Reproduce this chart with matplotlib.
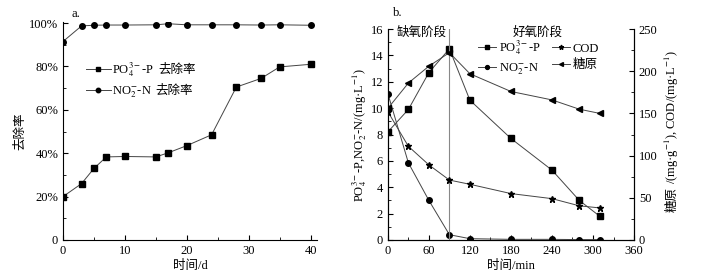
import matplotlib
matplotlib.use("Agg")
import matplotlib.pyplot as plt
from matplotlib.ticker import MultipleLocator, FuncFormatter

plt.rcParams['font.family'] = ['Liberation Serif', 'Noto Sans CJK SC']
plt.rcParams['mathtext.fontset'] = 'stix'
plt.rcParams['font.size'] = 10

# panel a: removal rates over days
days = [0, 3, 5, 7, 10, 15, 17, 20, 24, 28, 32, 35, 40]
po4_removal = [20, 26, 33, 38.3, 38.5, 38.3, 40.2, 43.5, 48.5, 70.5, 74.5, 79.8, 81]
no2_removal = [91.5, 98.7, 99.0, 99.1, 99.1, 99.2, 99.7, 99.2, 99.2, 99.2, 99.1, 99.2, 99.0]

# panel b: one cycle (min)
minutes = [0, 30, 60, 90, 120, 180, 240, 280, 310]
po4 = [8.2, 9.9, 12.7, 14.5, 10.6, 7.7, 5.3, 3.0, 1.8]
no2 = [11.1, 5.85, 3.0, 0.4, 0.1, 0.05, 0.05, 0.03, 0.03]
cod = [152, 111, 89, 71, 66, 55, 49, 40.5, 38]
glycogen = [156, 186, 206, 222, 197, 176, 166, 155, 150]

line_kw = dict(color='#444444', lw=0.7, markerfacecolor='black', markeredgecolor='black')
cjk = 'Noto Sans CJK SC'

fig = plt.figure(figsize=(7.25, 2.77), dpi=100)

# ---- panel a ----
ax1 = fig.add_axes([0.0869, 0.1336, 0.3501, 0.787])
ax1.plot(days, po4_removal, marker='s', ms=4, label=r'PO$_4^{3-}$-P', **line_kw)
ax1.plot(days, no2_removal, marker='o', ms=4, label=r'NO$_2^{-}$-N', **line_kw)
ax1.set_xlim(0, 41)
ax1.set_ylim(0, 100.5)
ax1.xaxis.set_major_locator(MultipleLocator(10))
ax1.xaxis.set_minor_locator(MultipleLocator(5))
ax1.yaxis.set_major_locator(MultipleLocator(20))
ax1.yaxis.set_minor_locator(MultipleLocator(10))
ax1.yaxis.set_major_formatter(FuncFormatter(lambda v, p: '0' if v == 0 else '%d%%' % v))
ax1.spines['top'].set_visible(False)
ax1.spines['right'].set_visible(False)
ax1.tick_params(direction='in', which='both', labelsize=9)
ax1.tick_params(which='minor', length=2)
ax1.set_xlabel('时间/d', fontsize=9, labelpad=2)
ax1.set_ylabel('去除率', fontsize=9, labelpad=2)
ax1.text(1.3, 104, 'a.', fontsize=9, va='center')
leg1 = ax1.legend(loc='upper left', bbox_to_anchor=(0.09, 0.824), frameon=False,
                  fontsize=9, handlelength=2.0, labelspacing=0.45, handletextpad=0.1,
                  borderpad=0, borderaxespad=0, markerscale=0.8)

# ---- panel b ----
ax2 = fig.add_axes([0.535, 0.1336, 0.3395, 0.7616])
ax3 = ax2.twinx()
l1, = ax2.plot(minutes, po4, marker='s', ms=4, label=r'PO$_4^{3-}$-P', **line_kw)
l2, = ax2.plot(minutes, no2, marker='o', ms=4, label=r'NO$_2^{-}$-N', **line_kw)
l3, = ax3.plot(minutes, cod, marker='*', ms=5, label='COD', **line_kw)
l4, = ax3.plot(minutes, glycogen, marker='<', ms=4, label='糖原', **line_kw)
ax2.axvline(90, color='#888888', lw=0.8)
ax2.set_xlim(0, 360)
ax2.set_ylim(0, 16)
ax3.set_ylim(0, 250)
ax2.xaxis.set_major_locator(MultipleLocator(60))
ax2.xaxis.set_minor_locator(MultipleLocator(30))
ax2.yaxis.set_major_locator(MultipleLocator(2))
ax2.yaxis.set_minor_locator(MultipleLocator(1))
ax3.yaxis.set_major_locator(MultipleLocator(50))
ax3.yaxis.set_minor_locator(MultipleLocator(25))
for a in (ax2, ax3):
    a.spines['top'].set_visible(False)
    a.tick_params(direction='in', which='both', labelsize=9)
    a.tick_params(which='minor', length=2)
ax2.set_xlabel('时间/min', fontsize=9, labelpad=2)
ax2.set_ylabel(r'PO$_4^{3-}$-P,NO$_2^{-}$-N/(mg·L$^{-1}$)', fontsize=9, labelpad=1)
ax3.set_ylabel(r'/(mg·g$^{-1}$), COD/(mg·L$^{-1}$)', fontsize=9, labelpad=4)
ax3.yaxis.label.set_y(0.585)
ax2.text(8, 17.2, 'b.', fontsize=9, va='center')
ax2.text(13, 15.5, '缺氧阶段', fontsize=9)
ax2.text(182, 15.5, '好氧阶段', fontsize=9)
leg2 = ax2.legend(handles=[l1, l2, l3, l4], loc='upper left', bbox_to_anchor=(0.367, 0.955),
                  ncol=2, frameon=False, fontsize=9, handlelength=1.4,
                  columnspacing=0.9, handletextpad=0.25, labelspacing=0.35,
                  borderpad=0, borderaxespad=0, markerscale=0.7)

# Chinese parts that mathtext can't render: place them next to the math labels
fig.canvas.draw()
r = fig.canvas.get_renderer()
W, H = fig.bbox.width, fig.bbox.height
for t, h in zip(leg1.get_texts(), leg1.get_lines()):
    bb = t.get_window_extent(r)
    hb = h.get_window_extent(r)
    fig.text((bb.x1 + 4) / W, (hb.y0 + hb.y1) / 2 / H, '去除率', fontsize=9,
             va='center', ha='left', family=cjk)
bb = ax3.yaxis.label.get_window_extent(r)
fig.text((bb.x0 + bb.x1) / 2 / W, (bb.y0 - 3) / H, '糖原', fontsize=9,
         rotation=90, ha='center', va='top', family=cjk)

fig.savefig('out.png', dpi=100)
